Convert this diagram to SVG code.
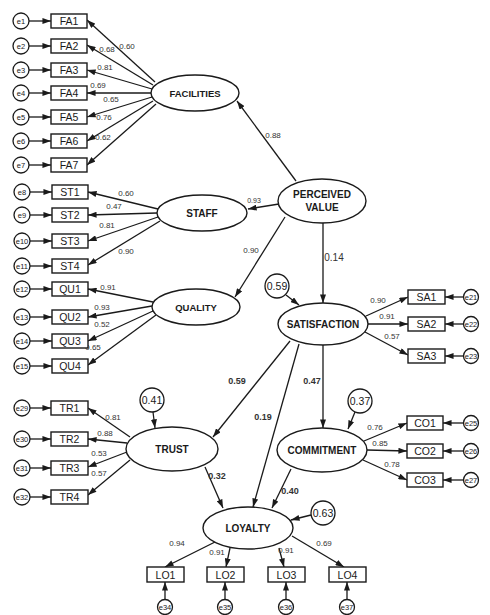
<svg xmlns="http://www.w3.org/2000/svg" width="490" height="615" viewBox="0 0 490 615">
<defs>
<marker id="ah" viewBox="0 0 10 7" refX="10" refY="3.5" markerWidth="9" markerHeight="6" markerUnits="userSpaceOnUse" orient="auto">
<path d="M0,0 L10,3.5 L0,7 z" fill="#1a1a1a"/>
</marker>
<style>
.e{fill:#fff;stroke:#1a1a1a;stroke-width:1.4}
.b{fill:#fff;stroke:#1a1a1a;stroke-width:1.4}
.c{fill:#fff;stroke:#1a1a1a;stroke-width:1.3}
.lat{font-family:"Liberation Sans",Arial,sans-serif;font-weight:bold;font-size:10px;fill:#1a1a1a;text-anchor:middle}
.obs{font-family:"Liberation Sans",Arial,sans-serif;font-size:10.5px;fill:#1a1a1a;text-anchor:middle}
.err{font-family:"Liberation Sans",Arial,sans-serif;font-size:7.5px;fill:#1a1a1a;text-anchor:middle}
.res{font-family:"Liberation Sans",Arial,sans-serif;font-size:10.5px;fill:#1a1a1a;text-anchor:middle}
.w{font-family:"Liberation Sans",Arial,sans-serif;font-size:8px;fill:#333;text-anchor:middle}
.wb{font-family:"Liberation Sans",Arial,sans-serif;font-size:9px;font-weight:bold;fill:#333;text-anchor:middle}
.ln{stroke:#1a1a1a;stroke-width:1.3;fill:none;marker-end:url(#ah)}
</style>
</defs>
<rect width="490" height="615" fill="#fff"/>

<g id="connectors">
<line class="ln" x1="29" y1="21" x2="51" y2="21"/>
<line class="ln" x1="29" y1="46" x2="51" y2="46"/>
<line class="ln" x1="29" y1="70" x2="51" y2="70"/>
<line class="ln" x1="29" y1="93" x2="51" y2="93"/>
<line class="ln" x1="29" y1="117" x2="51" y2="117"/>
<line class="ln" x1="29" y1="141" x2="51" y2="141"/>
<line class="ln" x1="29" y1="165" x2="51" y2="165"/>
<line class="ln" x1="30" y1="192" x2="52" y2="192"/>
<line class="ln" x1="30" y1="215" x2="52" y2="215"/>
<line class="ln" x1="30" y1="241" x2="52" y2="241"/>
<line class="ln" x1="30" y1="266" x2="52" y2="266"/>
<line class="ln" x1="30" y1="289" x2="52" y2="289"/>
<line class="ln" x1="30" y1="317" x2="52" y2="317"/>
<line class="ln" x1="30" y1="341" x2="52" y2="341"/>
<line class="ln" x1="30" y1="366" x2="52" y2="366"/>
<line class="ln" x1="30" y1="408" x2="51" y2="408"/>
<line class="ln" x1="30" y1="439" x2="51" y2="439"/>
<line class="ln" x1="30" y1="468" x2="51" y2="468"/>
<line class="ln" x1="30" y1="497" x2="51" y2="497"/>
<line class="ln" x1="155" y1="82" x2="87" y2="20"/>
<line class="ln" x1="153" y1="85" x2="87" y2="45"/>
<line class="ln" x1="152" y1="89" x2="87" y2="70"/>
<line class="ln" x1="151" y1="93" x2="87" y2="93"/>
<line class="ln" x1="152" y1="97" x2="87" y2="117"/>
<line class="ln" x1="153" y1="101" x2="87" y2="141"/>
<line class="ln" x1="156" y1="104" x2="87" y2="165"/>
<line class="ln" x1="158" y1="209" x2="88" y2="192"/>
<line class="ln" x1="157" y1="213" x2="88" y2="215"/>
<line class="ln" x1="158" y1="217" x2="88" y2="241"/>
<line class="ln" x1="160" y1="221" x2="88" y2="265"/>
<line class="ln" x1="153" y1="302" x2="88" y2="289"/>
<line class="ln" x1="152" y1="306" x2="88" y2="317"/>
<line class="ln" x1="153" y1="311" x2="88" y2="341"/>
<line class="ln" x1="156" y1="315" x2="88" y2="365"/>
<line class="ln" x1="130" y1="437" x2="88" y2="408"/>
<line class="ln" x1="127" y1="443" x2="88" y2="439"/>
<line class="ln" x1="127" y1="452" x2="88" y2="467"/>
<line class="ln" x1="130" y1="460" x2="88" y2="495"/>
<line class="ln" x1="366" y1="316" x2="408" y2="297"/>
<line class="ln" x1="368" y1="324" x2="408" y2="324"/>
<line class="ln" x1="365" y1="332" x2="408" y2="355"/>
<line class="ln" x1="464" y1="297" x2="445" y2="297"/>
<line class="ln" x1="464" y1="324" x2="445" y2="324"/>
<line class="ln" x1="464" y1="356" x2="445" y2="356"/>
<line class="ln" x1="364" y1="441" x2="407" y2="423"/>
<line class="ln" x1="367" y1="450" x2="407" y2="451"/>
<line class="ln" x1="363" y1="460" x2="407" y2="480"/>
<line class="ln" x1="464" y1="423" x2="443" y2="423"/>
<line class="ln" x1="464" y1="451" x2="443" y2="451"/>
<line class="ln" x1="464" y1="480" x2="443" y2="480"/>
<line class="ln" x1="215" y1="542" x2="165" y2="567"/>
<line class="ln" x1="230" y1="548" x2="226" y2="567"/>
<line class="ln" x1="279" y1="548" x2="284" y2="567"/>
<line class="ln" x1="292" y1="536" x2="344" y2="567"/>
<line class="ln" x1="165" y1="599" x2="165" y2="582"/>
<line class="ln" x1="225" y1="599" x2="225" y2="582"/>
<line class="ln" x1="286" y1="599" x2="286" y2="582"/>
<line class="ln" x1="347" y1="599" x2="347" y2="582"/>
<line class="ln" x1="296" y1="181" x2="237" y2="101"/>
<line class="ln" x1="279" y1="204" x2="248" y2="209"/>
<line class="ln" x1="285" y1="217" x2="235" y2="297"/>
<line class="ln" x1="323" y1="223" x2="323" y2="303"/>
<line class="ln" x1="286" y1="295" x2="299" y2="305"/>
<line class="ln" x1="290" y1="341" x2="213" y2="437"/>
<line class="ln" x1="299" y1="344" x2="253" y2="507"/>
<line class="ln" x1="323" y1="345" x2="323" y2="428"/>
<line class="ln" x1="355" y1="412" x2="348" y2="429"/>
<line class="ln" x1="153" y1="412" x2="155" y2="428"/>
<line class="ln" x1="205" y1="467" x2="223" y2="508"/>
<line class="ln" x1="291" y1="469" x2="272" y2="508"/>
<line class="ln" x1="311" y1="515" x2="291" y2="520"/>
</g>

<g id="weights">
<text class="w" x="127" y="49">0.60</text>
<text class="w" x="107" y="52">0.68</text>
<text class="w" x="105" y="70">0.81</text>
<text class="w" x="98" y="88">0.69</text>
<text class="w" x="111" y="102">0.65</text>
<text class="w" x="104" y="120">0.76</text>
<text class="w" x="103" y="140">0.62</text>
<text class="w" x="126" y="196">0.60</text>
<text class="w" x="114" y="209">0.47</text>
<text class="w" x="107" y="228">0.81</text>
<text class="w" x="126" y="254">0.90</text>
<text class="w" x="108" y="290">0.91</text>
<text class="w" x="102" y="310">0.93</text>
<text class="w" x="102" y="327">0.52</text>
<text class="w" x="93" y="350">0.65</text>
<text class="w" x="113" y="420">0.81</text>
<text class="w" x="105" y="436">0.88</text>
<text class="w" x="99" y="456">0.53</text>
<text class="w" x="99" y="476">0.57</text>
<text class="w" x="378" y="303">0.90</text>
<text class="w" x="387" y="319">0.91</text>
<text class="w" x="392" y="339">0.57</text>
<text class="w" x="375" y="430">0.76</text>
<text class="w" x="380" y="446">0.85</text>
<text class="w" x="392" y="467">0.78</text>
<text class="w" x="177" y="546">0.94</text>
<text class="w" x="217" y="555">0.91</text>
<text class="w" x="286" y="553">0.91</text>
<text class="w" x="324" y="546">0.69</text>
<text class="w" x="273" y="138">0.88</text>
<text class="w" x="254" y="203" style="font-size:7px">0.93</text>
<text class="w" x="251" y="253">0.90</text>
<text class="w" x="334" y="261" style="font-size:10px">0.14</text>
<text class="wb" x="237" y="384">0.59</text>
<text class="wb" x="263" y="420">0.19</text>
<text class="wb" x="312" y="384">0.47</text>
<text class="wb" x="217" y="479">0.32</text>
<text class="wb" x="290" y="494">0.40</text>
</g>

<g id="facilities"><ellipse class="e" cx="195" cy="93" rx="44" ry="18"/><text class="lat" x="195" y="97" style="font-size:9.5px">FACILITIES</text></g>
<g id="staff"><ellipse class="e" cx="202" cy="213" rx="45" ry="18"/><text class="lat" x="202" y="217">STAFF</text></g>
<g id="quality"><ellipse class="e" cx="196" cy="307" rx="44" ry="18"/><text class="lat" x="196" y="311" style="font-size:9.5px">QUALITY</text></g>
<g id="perceived-value"><ellipse class="e" cx="322" cy="201" rx="44" ry="22"/><text class="lat" x="322" y="198">PERCEIVED</text><text class="lat" x="322" y="211">VALUE</text></g>
<g id="satisfaction"><ellipse class="e" cx="323" cy="324" rx="45" ry="21"/><text class="lat" x="323" y="328">SATISFACTION</text></g>
<g id="trust"><ellipse class="e" cx="172" cy="449" rx="46" ry="22"/><text class="lat" x="172" y="453">TRUST</text></g>
<g id="commitment"><ellipse class="e" cx="322" cy="450" rx="45" ry="22"/><text class="lat" x="322" y="454">COMMITMENT</text></g>
<g id="loyalty"><ellipse class="e" cx="248" cy="528" rx="45" ry="21"/><text class="lat" x="248" y="532">LOYALTY</text></g>

<g id="r-sat"><circle class="c" cx="277" cy="286" r="12"/><text class="res" x="277" y="290">0.59</text></g>
<g id="r-trust"><circle class="c" cx="152" cy="400" r="12"/><text class="res" x="152" y="404">0.41</text></g>
<g id="r-com"><circle class="c" cx="360" cy="401" r="12"/><text class="res" x="360" y="405">0.37</text></g>
<g id="r-loy"><circle class="c" cx="323" cy="513" r="12"/><text class="res" x="323" y="517">0.63</text></g>

<g id="FA1"><rect class="b" x="51" y="14" width="36" height="14"/><text class="obs" x="69" y="25">FA1</text></g>
<g id="FA2"><rect class="b" x="51" y="39" width="36" height="14"/><text class="obs" x="69" y="50">FA2</text></g>
<g id="FA3"><rect class="b" x="51" y="63" width="36" height="14"/><text class="obs" x="69" y="74">FA3</text></g>
<g id="FA4"><rect class="b" x="51" y="86" width="36" height="14"/><text class="obs" x="69" y="97">FA4</text></g>
<g id="FA5"><rect class="b" x="51" y="110" width="36" height="14"/><text class="obs" x="69" y="121">FA5</text></g>
<g id="FA6"><rect class="b" x="51" y="134" width="36" height="14"/><text class="obs" x="69" y="145">FA6</text></g>
<g id="FA7"><rect class="b" x="51" y="158" width="36" height="14"/><text class="obs" x="69" y="169">FA7</text></g>
<g id="ST1"><rect class="b" x="52" y="185" width="36" height="14"/><text class="obs" x="70" y="196">ST1</text></g>
<g id="ST2"><rect class="b" x="52" y="208" width="36" height="14"/><text class="obs" x="70" y="219">ST2</text></g>
<g id="ST3"><rect class="b" x="52" y="234" width="36" height="14"/><text class="obs" x="70" y="245">ST3</text></g>
<g id="ST4"><rect class="b" x="52" y="259" width="36" height="14"/><text class="obs" x="70" y="270">ST4</text></g>
<g id="QU1"><rect class="b" x="52" y="282" width="36" height="14"/><text class="obs" x="70" y="293">QU1</text></g>
<g id="QU2"><rect class="b" x="52" y="310" width="36" height="14"/><text class="obs" x="70" y="321">QU2</text></g>
<g id="QU3"><rect class="b" x="52" y="334" width="36" height="14"/><text class="obs" x="70" y="345">QU3</text></g>
<g id="QU4"><rect class="b" x="52" y="359" width="36" height="14"/><text class="obs" x="70" y="370">QU4</text></g>
<g id="TR1"><rect class="b" x="51" y="401" width="37" height="14"/><text class="obs" x="69.5" y="412">TR1</text></g>
<g id="TR2"><rect class="b" x="51" y="432" width="37" height="14"/><text class="obs" x="69.5" y="443">TR2</text></g>
<g id="TR3"><rect class="b" x="51" y="461" width="37" height="14"/><text class="obs" x="69.5" y="472">TR3</text></g>
<g id="TR4"><rect class="b" x="51" y="490" width="37" height="14"/><text class="obs" x="69.5" y="501">TR4</text></g>

<g id="SA1"><rect class="b" x="408" y="290" width="37" height="14"/><text class="obs" x="426.5" y="301">SA1</text></g>
<g id="SA2"><rect class="b" x="408" y="317" width="37" height="14"/><text class="obs" x="426.5" y="328">SA2</text></g>
<g id="SA3"><rect class="b" x="408" y="349" width="37" height="14"/><text class="obs" x="426.5" y="360">SA3</text></g>
<g id="CO1"><rect class="b" x="407" y="416" width="36" height="14"/><text class="obs" x="425" y="427">CO1</text></g>
<g id="CO2"><rect class="b" x="407" y="444" width="36" height="14"/><text class="obs" x="425" y="455">CO2</text></g>
<g id="CO3"><rect class="b" x="407" y="473" width="36" height="14"/><text class="obs" x="425" y="484">CO3</text></g>

<g id="LO1"><rect class="b" x="147" y="567" width="37" height="15"/><text class="obs" x="165.5" y="578.5">LO1</text></g>
<g id="LO2"><rect class="b" x="207" y="567" width="37" height="15"/><text class="obs" x="225.5" y="578.5">LO2</text></g>
<g id="LO3"><rect class="b" x="268" y="567" width="37" height="15"/><text class="obs" x="286.5" y="578.5">LO3</text></g>
<g id="LO4"><rect class="b" x="329" y="567" width="37" height="15"/><text class="obs" x="347.5" y="578.5">LO4</text></g>

<g id="e1"><circle class="c" cx="21" cy="21" r="8"/><text class="err" x="21" y="23.7">e1</text></g>
<g id="e2"><circle class="c" cx="21" cy="46" r="8"/><text class="err" x="21" y="48.7">e2</text></g>
<g id="e3"><circle class="c" cx="21" cy="70" r="8"/><text class="err" x="21" y="72.7">e3</text></g>
<g id="e4"><circle class="c" cx="21" cy="93" r="8"/><text class="err" x="21" y="95.7">e4</text></g>
<g id="e5"><circle class="c" cx="21" cy="117" r="8"/><text class="err" x="21" y="119.7">e5</text></g>
<g id="e6"><circle class="c" cx="21" cy="141" r="8"/><text class="err" x="21" y="143.7">e6</text></g>
<g id="e7"><circle class="c" cx="21" cy="165" r="8"/><text class="err" x="21" y="167.7">e7</text></g>
<g id="e8"><circle class="c" cx="22" cy="192" r="8"/><text class="err" x="22" y="194.7">e8</text></g>
<g id="e9"><circle class="c" cx="22" cy="215" r="8"/><text class="err" x="22" y="217.7">e9</text></g>
<g id="e10"><circle class="c" cx="22" cy="241" r="8"/><text class="err" x="22" y="243.7">e10</text></g>
<g id="e11"><circle class="c" cx="22" cy="266" r="8"/><text class="err" x="22" y="268.7">e11</text></g>
<g id="e12"><circle class="c" cx="22" cy="289" r="8"/><text class="err" x="22" y="291.7">e12</text></g>
<g id="e13"><circle class="c" cx="22" cy="317" r="8"/><text class="err" x="22" y="319.7">e13</text></g>
<g id="e14"><circle class="c" cx="22" cy="341" r="8"/><text class="err" x="22" y="343.7">e14</text></g>
<g id="e15"><circle class="c" cx="22" cy="366" r="8"/><text class="err" x="22" y="368.7">e15</text></g>
<g id="e29"><circle class="c" cx="22" cy="408" r="8"/><text class="err" x="22" y="410.7">e29</text></g>
<g id="e30"><circle class="c" cx="22" cy="439" r="8"/><text class="err" x="22" y="441.7">e30</text></g>
<g id="e31"><circle class="c" cx="22" cy="468" r="8"/><text class="err" x="22" y="470.7">e31</text></g>
<g id="e32"><circle class="c" cx="22" cy="497" r="8"/><text class="err" x="22" y="499.7">e32</text></g>
<g id="e21"><circle class="c" cx="471" cy="297" r="7.5"/><text class="err" x="471" y="299.7">e21</text></g>
<g id="e22"><circle class="c" cx="471" cy="324" r="7.5"/><text class="err" x="471" y="326.7">e22</text></g>
<g id="e23"><circle class="c" cx="471" cy="356" r="7.5"/><text class="err" x="471" y="358.7">e23</text></g>
<g id="e25"><circle class="c" cx="471" cy="423" r="7.5"/><text class="err" x="471" y="425.7">e25</text></g>
<g id="e26"><circle class="c" cx="471" cy="451" r="7.5"/><text class="err" x="471" y="453.7">e26</text></g>
<g id="e27"><circle class="c" cx="471" cy="480" r="7.5"/><text class="err" x="471" y="482.7">e27</text></g>
<g id="e34"><circle class="c" cx="165" cy="607" r="7.5"/><text class="err" x="165" y="609.7">e34</text></g>
<g id="e35"><circle class="c" cx="225" cy="607" r="7.5"/><text class="err" x="225" y="609.7">e35</text></g>
<g id="e36"><circle class="c" cx="286" cy="607" r="7.5"/><text class="err" x="286" y="609.7">e36</text></g>
<g id="e37"><circle class="c" cx="347" cy="607" r="7.5"/><text class="err" x="347" y="609.7">e37</text></g>
</svg>
